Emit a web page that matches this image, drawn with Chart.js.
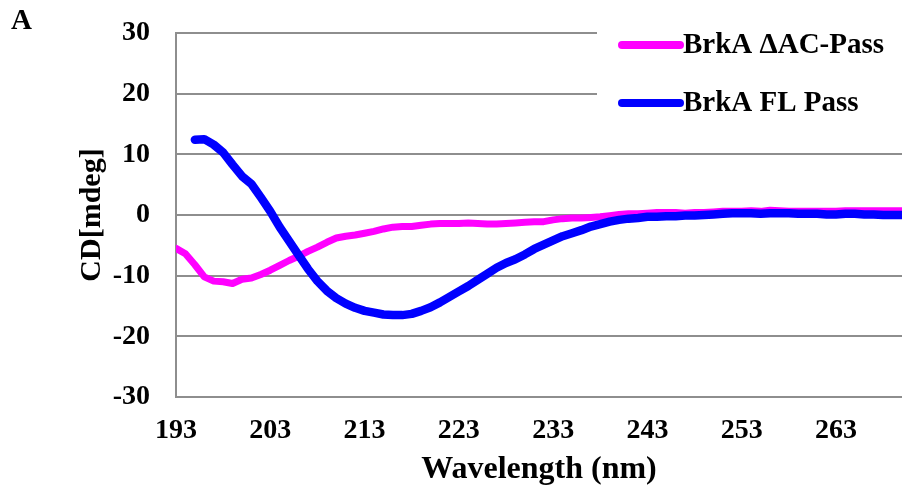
<!DOCTYPE html>
<html>
<head>
<meta charset="utf-8">
<script src="https://cdn.jsdelivr.net/npm/chart.js@4/dist/chart.umd.min.js"></script>
<style>
  html, body { margin: 0; padding: 0; background: #fff; }
  #wrap { position: relative; width: 902px; height: 492px; }
  #panel { position: absolute; left: 11px; top: 3px; font: bold 29px "Liberation Serif", "Times New Roman", serif; color: #000; }
</style>
</head>
<body>
<div id="wrap">
  <canvas id="cd"></canvas>
  <div id="panel">A</div>
</div>
<script>
// Wavelength grid (nm)
const wavelengths = [193,194,195,196,197,198,199,200,201,202,203,204,205,206,207,208,209,210,211,212,213,214,215,216,217,218,219,220,221,222,223,224,225,226,227,228,229,230,231,232,233,234,235,236,237,238,239,240,241,242,243,244,245,246,247,248,249,250,251,252,253,254,255,256,257,258,259,260,261,262,263,264,265,266,267,268,269,270];

// CD signal, BrkA ΔAC-Pass (mdeg)
const deltaACPass = [-5.5,-6.4,-8.2,-10.2,-10.9,-11.0,-11.3,-10.6,-10.4,-9.8,-9.1,-8.3,-7.5,-6.8,-6.0,-5.3,-4.5,-3.8,-3.5,-3.3,-3.0,-2.7,-2.3,-2.0,-1.9,-1.9,-1.7,-1.5,-1.4,-1.4,-1.4,-1.3,-1.4,-1.5,-1.5,-1.4,-1.3,-1.2,-1.1,-1.1,-0.8,-0.6,-0.5,-0.5,-0.4,-0.3,-0.1,0.1,0.2,0.2,0.3,0.4,0.4,0.4,0.3,0.4,0.4,0.5,0.6,0.6,0.6,0.7,0.6,0.8,0.7,0.6,0.6,0.6,0.6,0.6,0.6,0.7,0.7,0.7,0.7,0.7,0.7,0.7];

// CD signal, BrkA FL Pass (mdeg); no reading below 195 nm
const flPass = [null,null,12.4,12.5,11.6,10.3,8.3,6.4,5.1,2.9,0.6,-2.0,-4.3,-6.6,-8.9,-10.9,-12.5,-13.7,-14.6,-15.3,-15.8,-16.1,-16.4,-16.5,-16.5,-16.3,-15.8,-15.2,-14.4,-13.5,-12.6,-11.7,-10.7,-9.7,-8.7,-7.9,-7.3,-6.5,-5.6,-4.9,-4.2,-3.5,-3.0,-2.5,-1.9,-1.5,-1.1,-0.8,-0.6,-0.5,-0.3,-0.3,-0.2,-0.2,-0.1,-0.1,0.0,0.1,0.2,0.3,0.3,0.3,0.2,0.3,0.3,0.3,0.2,0.2,0.2,0.1,0.1,0.2,0.2,0.1,0.1,0.0,0.0,0.0];

const seriesNames = ['BrkA \u0394AC-Pass', 'BrkA FL Pass'];
const xTickValues = [193,203,213,223,233,243,253,263];
const yTickValues = [-30,-20,-10,0,10,20,30];

const SERIF = '"Liberation Serif", "Times New Roman", serif';
const GRID = '#8e8e8e';

function toPoints(vals) {
  return wavelengths.map((w, i) => ({ x: w, y: vals[i] }));
}

// Legend drawn in a white box over the upper-right of the plot
const boxLegend = {
  id: 'boxLegend',
  afterDatasetsDraw(chart) {
    const ctx = chart.ctx;
    const area = chart.chartArea;
    const left = 597;
    ctx.save();
    ctx.fillStyle = '#fff';
    ctx.fillRect(left, area.top - 8, area.right - left + 2, 115);
    ctx.font = 'bold 29px ' + SERIF;
    ctx.textBaseline = 'middle';
    ctx.textAlign = 'left';
    chart.data.datasets.forEach((ds, i) => {
      const y = area.top + 12 + i * 58;
      ctx.strokeStyle = ds.borderColor;
      ctx.lineWidth = 8;
      ctx.lineCap = 'round';
      ctx.beginPath();
      ctx.moveTo(622, y);
      ctx.lineTo(680, y);
      ctx.stroke();
      ctx.fillStyle = '#000';
      ctx.fillText(ds.label, 683, y + 1);
    });
    ctx.restore();
  }
};

new Chart(document.getElementById('cd'), {
  type: 'line',
  data: {
    datasets: [
      {
        label: seriesNames[0],
        data: toPoints(deltaACPass),
        borderColor: '#ff00ff',
        backgroundColor: '#ff00ff',
        borderWidth: 7,
        order: 2
      },
      {
        label: seriesNames[1],
        data: toPoints(flPass),
        borderColor: '#0000ff',
        backgroundColor: '#0000ff',
        borderWidth: 8.5,
        order: 1
      }
    ]
  },
  options: {
    responsive: true,
    maintainAspectRatio: false,
    animation: false,
    layout: { padding: { top: 33, right: 0, bottom: 0, left: 0 } },
    elements: {
      point: { radius: 0, hoverRadius: 0 },
      line: { tension: 0, borderCapStyle: 'round', borderJoinStyle: 'round' }
    },
    plugins: {
      legend: { display: false },
      tooltip: { enabled: false }
    },
    scales: {
      x: {
        type: 'linear',
        min: 193,
        max: 270,
        afterBuildTicks(scale) {
          scale.ticks = xTickValues.map(v => ({ value: v }));
        },
        afterFit(scale) {
          scale.height = 95;
          scale.paddingLeft = 0;
          scale.paddingRight = 0;
        },
        grid: { display: false, drawTicks: false },
        border: { display: true, color: GRID, width: 2 },
        ticks: {
          padding: 17,
          color: '#000',
          maxRotation: 0,
          autoSkip: false,
          font: { family: SERIF, size: 28, weight: 'bold' }
        },
        title: {
          display: true,
          text: 'Wavelength (nm)',
          color: '#000',
          font: { family: SERIF, size: 32, weight: 'bold' },
          padding: { top: 0, bottom: 3 }
        }
      },
      y: {
        min: -30,
        max: 30,
        afterBuildTicks(scale) {
          scale.ticks = yTickValues.map(v => ({ value: v }));
        },
        afterFit(scale) {
          scale.width = 176;
          scale.paddingTop = 0;
          scale.paddingBottom = 0;
        },
        grid: { display: true, color: GRID, lineWidth: 2, drawTicks: false },
        border: { display: true, color: GRID, width: 2 },
        ticks: {
          padding: 26,
          color: '#000',
          font: { family: SERIF, size: 28, weight: 'bold' }
        },
        title: {
          display: true,
          text: 'CD[mdeg]',
          color: '#000',
          font: { family: SERIF, size: 30, weight: 'bold' },
          padding: { top: 74, bottom: 0 }
        }
      }
    }
  },
  plugins: [boxLegend]
});
</script>
</body>
</html>
